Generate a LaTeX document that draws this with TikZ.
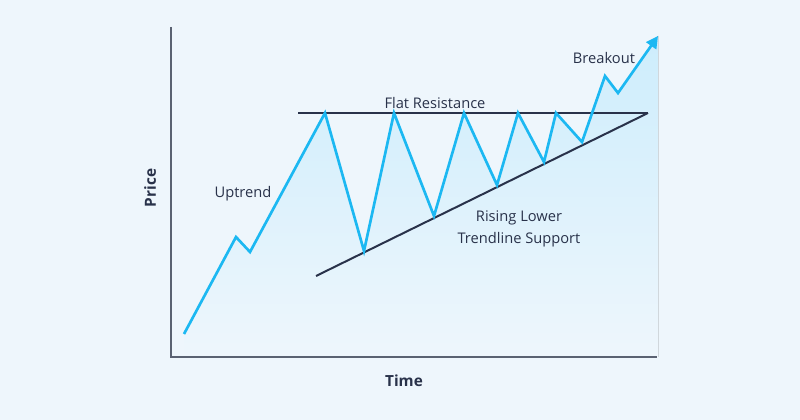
\documentclass[tikz,border=0pt]{standalone}
\usepackage{fontspec}
\setmainfont{Open Sans}
\usetikzlibrary{arrows.meta}

\definecolor{bgblue}{HTML}{EEF6FC}
\definecolor{pricecyan}{HTML}{1CB8F2}
\definecolor{lineink}{HTML}{29324A}
\definecolor{axisgray}{HTML}{5A6272}
\definecolor{fillcyan}{HTML}{CDEDFC}

\begin{document}
\begin{tikzpicture}[
    x=0.75pt, y=-0.75pt,
    chartlabel/.style={font=\fontsize{11}{16.5}\selectfont, text=lineink, inner sep=0pt},
    axislabel/.style={font=\bfseries\fontsize{11.5}{12}\selectfont, text=lineink, inner sep=0pt},
    price/.style={draw=pricecyan, line width=2pt, line join=miter},
    trend/.style={draw=lineink, line width=1.5pt},
    axis/.style={draw=axisgray, line width=1.1pt}
]

% background and page size
\fill[bgblue] (0,0) rectangle (800,420);
\useasboundingbox (0,0) rectangle (800,420);

% price path
\coordinate (p0) at (184,334);
\coordinate (p1) at (236,237);
\coordinate (p2) at (250,252);
\coordinate (p3) at (325,113);
\coordinate (p4) at (364,251);
\coordinate (p5) at (394,113);
\coordinate (p6) at (434,216);
\coordinate (p7) at (464,113);
\coordinate (p8) at (497,185);
\coordinate (p9) at (518,113);
\coordinate (p10) at (544,162);
\coordinate (p11) at (556,113);
\coordinate (p12) at (582,142);
\coordinate (p13) at (605,76);
\coordinate (p14) at (618,93);
\coordinate (p15) at (658,36);

% axes
\coordinate (ytop) at (171,27);
\coordinate (origin) at (171,357);
\coordinate (xend) at (657,357);

% trend lines
\coordinate (resleft) at (298,113);
\coordinate (resright) at (648,113);
\coordinate (supleft) at (316,276);
\coordinate (supright) at (648,113);

% shaded area under the price
\fill[top color=fillcyan, bottom color=bgblue]
    (p0) -- (p1) -- (p2) -- (p3) -- (p4) -- (p5) -- (p6) -- (p7) -- (p8)
    -- (p9) -- (p10) -- (p11) -- (p12) -- (p13) -- (p14) -- (p15)
    -- (p15 |- origin) -- (p0 |- origin) -- cycle;

\draw[axis] (ytop) -- (origin) -- (xend);

\draw[trend] (resleft) -- (resright);
\draw[trend] (supleft) -- (supright);

\draw[price, -{Triangle[length=9pt, width=9pt]}]
    (p0) -- (p1) -- (p2) -- (p3) -- (p4) -- (p5) -- (p6) -- (p7) -- (p8)
    -- (p9) -- (p10) -- (p11) -- (p12) -- (p13) -- (p14) -- (p15);

% labels
\node[chartlabel] (breakout) at (604,58) {Breakout};
\node[chartlabel] (resistance) at (435,103) {Flat Resistance};
\node[chartlabel] (uptrend) at (243,194) {Uptrend};
\node[chartlabel, align=center] (support) at (519,229) {Rising Lower\\Trendline Support};
\node[axislabel, rotate=90] (pricelabel) at (150,188) {Price};
\node[axislabel] (timelabel) at (404,381) {Time};

\end{tikzpicture}
\end{document}
